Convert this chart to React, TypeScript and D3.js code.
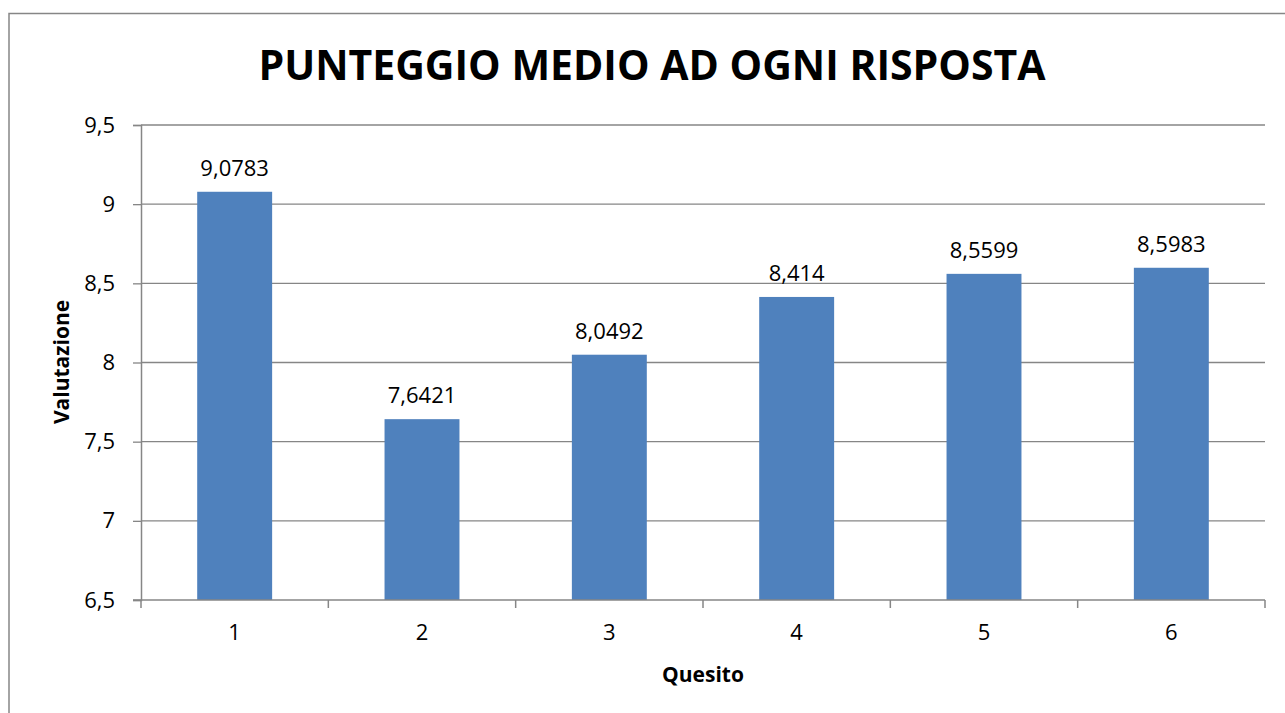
import * as d3 from "d3"
import { useRef, useEffect } from "react"

const categories = ["1", "2", "3", "4", "5", "6"]
const values = [9.0783, 7.6421, 8.0492, 8.414, 8.5599, 8.5983]
const valueLabels = ["9,0783", "7,6421", "8,0492", "8,414", "8,5599", "8,5983"]
const yTicks = [6.5, 7, 7.5, 8, 8.5, 9, 9.5]

export default function App() {
  const ref = useRef<SVGSVGElement>(null)

  useEffect(() => {
    const width = 1285
    const height = 713
    const marginLeft = 141
    const marginRight = 20
    const marginTop = 125
    const marginBottom = 113
    const font = "'Open Sans', sans-serif"
    const grey = "#868686"

    const svg = d3.select(ref.current)
    svg.selectAll("*").remove()
    svg.attr("width", width).attr("height", height)

    svg.append("rect")
      .attr("x", 0).attr("y", 0).attr("width", width).attr("height", height)
      .attr("fill", "white")

    // chart frame
    svg.append("rect")
      .attr("x", 9).attr("y", 13.5)
      .attr("width", width + 20).attr("height", height + 20)
      .attr("fill", "none").attr("stroke", grey).attr("stroke-width", 1.5)

    const x = d3.scaleBand()
      .domain(categories)
      .range([marginLeft, width - marginRight])
      .paddingInner(0.6)
      .paddingOuter(0.3)

    const y = d3.scaleLinear()
      .domain([6.5, 9.5])
      .range([height - marginBottom, marginTop])

    // gridlines
    svg.append("g")
      .selectAll("line")
      .data(yTicks.slice(1))
      .join("line")
      .attr("x1", marginLeft).attr("x2", width - marginRight)
      .attr("y1", d => y(d)).attr("y2", d => y(d))
      .attr("stroke", grey).attr("stroke-width", 1.3)

    // bars
    svg.append("g")
      .attr("fill", "#4F81BD")
      .selectAll("rect")
      .data(values)
      .join("rect")
      .attr("x", (d, i) => x(categories[i])!)
      .attr("y", d => y(d))
      .attr("width", x.bandwidth())
      .attr("height", d => y(6.5) - y(d))

    // value labels
    svg.append("g")
      .selectAll("text")
      .data(values)
      .join("text")
      .attr("x", (d, i) => x(categories[i])! + x.bandwidth() / 2)
      .attr("y", d => y(d) - 16)
      .attr("text-anchor", "middle")
      .attr("font-family", font).attr("font-size", 22)
      .attr("fill", "#000")
      .text((d, i) => valueLabels[i])

    // y axis
    const yAxis = svg.append("g")
      .attr("transform", `translate(${marginLeft},0)`)
      .call(d3.axisLeft(y).tickValues(yTicks).tickSize(8).tickPadding(18)
        .tickFormat(d => String(d).replace(".", ",")))
    yAxis.select(".domain").attr("stroke", grey).attr("stroke-width", 1.5)
    yAxis.selectAll(".tick line").attr("stroke", grey).attr("stroke-width", 1.3)
    yAxis.selectAll(".tick text")
      .attr("font-family", font).attr("font-size", 22).attr("fill", "#000")

    // x axis
    const xAxis = svg.append("g")
      .attr("transform", `translate(0,${height - marginBottom})`)
      .call(d3.axisBottom(x).tickSize(0).tickPadding(24))
    xAxis.select(".domain").remove()
    xAxis.selectAll(".tick text")
      .attr("font-family", font).attr("font-size", 22).attr("fill", "#000")

    svg.append("line")
      .attr("x1", marginLeft - 8).attr("x2", width - marginRight)
      .attr("y1", y(6.5)).attr("y2", y(6.5))
      .attr("stroke", grey).attr("stroke-width", 1.5)

    // category separator ticks
    const plotW = width - marginRight - marginLeft
    svg.append("g")
      .selectAll("line")
      .data(d3.range(categories.length + 1))
      .join("line")
      .attr("x1", i => marginLeft + i * (plotW / categories.length))
      .attr("x2", i => marginLeft + i * (plotW / categories.length))
      .attr("y1", y(6.5)).attr("y2", y(6.5) + 8)
      .attr("stroke", grey).attr("stroke-width", 1.5)

    // title
    svg.append("text")
      .attr("x", 652).attr("y", 80)
      .attr("text-anchor", "middle")
      .attr("font-family", font).attr("font-weight", "bold").attr("font-size", 41)
      .attr("fill", "#000")
      .text("PUNTEGGIO MEDIO AD OGNI RISPOSTA")

    // axis titles
    svg.append("text")
      .attr("x", 703).attr("y", 682)
      .attr("text-anchor", "middle")
      .attr("font-family", font).attr("font-weight", "bold").attr("font-size", 21)
      .attr("fill", "#000")
      .text("Quesito")

    svg.append("text")
      .attr("transform", `translate(69,362) rotate(-90)`)
      .attr("text-anchor", "middle")
      .attr("font-family", font).attr("font-weight", "bold").attr("font-size", 21)
      .attr("fill", "#000")
      .text("Valutazione")
  }, [])

  return (
    <div style={{ position: "absolute", left: 0, top: 0 }}>
      <svg ref={ref}></svg>
    </div>
  )
}
